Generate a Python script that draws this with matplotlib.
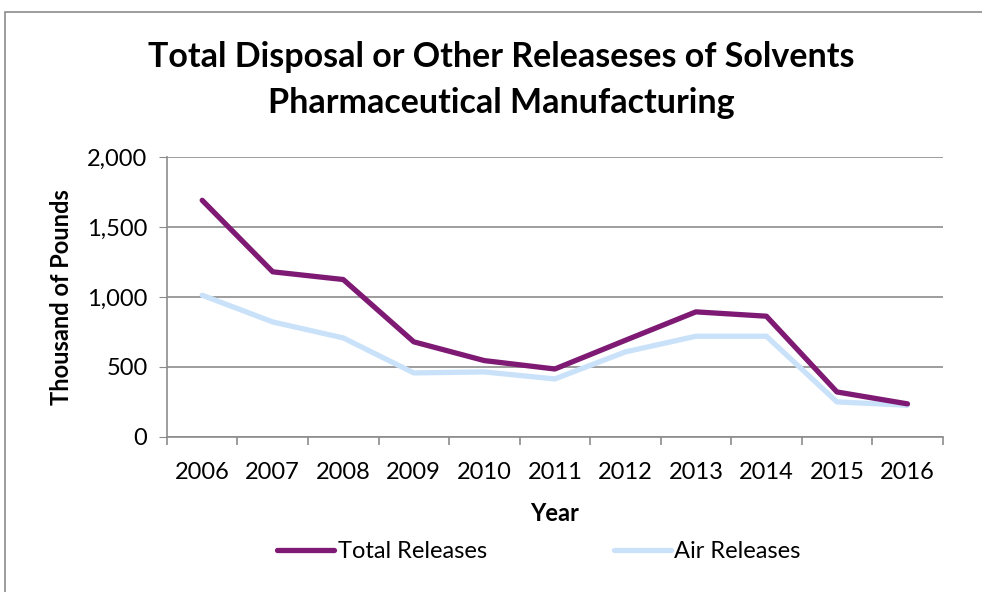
import matplotlib
matplotlib.use("Agg")
import matplotlib.pyplot as plt
from matplotlib.patches import Rectangle
from matplotlib.ticker import FuncFormatter, FixedLocator
import numpy as np

years = ["2006", "2007", "2008", "2009", "2010", "2011",
         "2012", "2013", "2014", "2015", "2016"]
total_releases = [1690, 1179, 1124, 679, 545, 485, 690, 893, 862, 321, 236]
air_releases = [1012, 821, 707, 457, 464, 414, 607, 719, 719, 250, 226]

plt.rcParams["font.family"] = ["Lato", "DejaVu Sans"]

fig = plt.figure(figsize=(9.82, 5.92), dpi=100)
ax = fig.add_axes([0.170, 0.262, 0.790, 0.473])

# outer chart border
fig.patches.append(Rectangle((0.005, -0.02), 1.1, 1.0,
                             transform=fig.transFigure, fill=False,
                             edgecolor="#8c8c8c", linewidth=1.2))

x = np.arange(len(years))
ax.plot(x, total_releases, color="#7E1A74", linewidth=3.8,
        solid_capstyle="round", label="Total Releases", zorder=3)
ax.plot(x, air_releases, color="#C9E2FA", linewidth=3.8,
        solid_capstyle="round", label="Air Releases", zorder=2)

ax.set_xlim(-0.5, len(years) - 0.5)
ax.set_ylim(0, 2000)
ax.set_yticks([0, 500, 1000, 1500, 2000])
ax.yaxis.set_major_formatter(FuncFormatter(lambda v, p: f"{int(v):,}"))
ax.set_xticks(x)
ax.set_xticklabels(years)
ax.xaxis.set_minor_locator(FixedLocator(np.arange(-0.5, len(years), 1.0)))

ax.grid(axis="y", color="#8c8c8c", linewidth=1.2)
ax.set_axisbelow(True)
for s in ["top", "right"]:
    ax.spines[s].set_visible(False)
for s in ["left", "bottom"]:
    ax.spines[s].set_color("#8c8c8c")
    ax.spines[s].set_linewidth(1.2)

ax.tick_params(axis="y", which="major", length=6, color="#8c8c8c",
               labelsize=17, pad=8)
ax.tick_params(axis="x", which="major", length=0, labelsize=17, pad=18)
ax.tick_params(axis="x", which="minor", length=6, color="#8c8c8c", width=1.2)

ax.set_xlabel("Year", fontsize=17, fontweight="bold", labelpad=14)
ax.set_ylabel("Thousand of Pounds", fontsize=17, fontweight="bold", labelpad=10)

fig.text(0.51, 0.903, "Total Disposal or Other Releaseses of Solvents",
         ha="center", va="center", fontsize=24.5, fontweight="bold")
fig.text(0.51, 0.826, "Pharmaceutical Manufacturing",
         ha="center", va="center", fontsize=24.5, fontweight="bold")

fig.legend(loc="center", bbox_to_anchor=(0.549, 0.068), ncol=2, frameon=False,
           fontsize=17, handlelength=2.4, handletextpad=0.15,
           columnspacing=5.4)

fig.savefig("out.png", dpi=100)
